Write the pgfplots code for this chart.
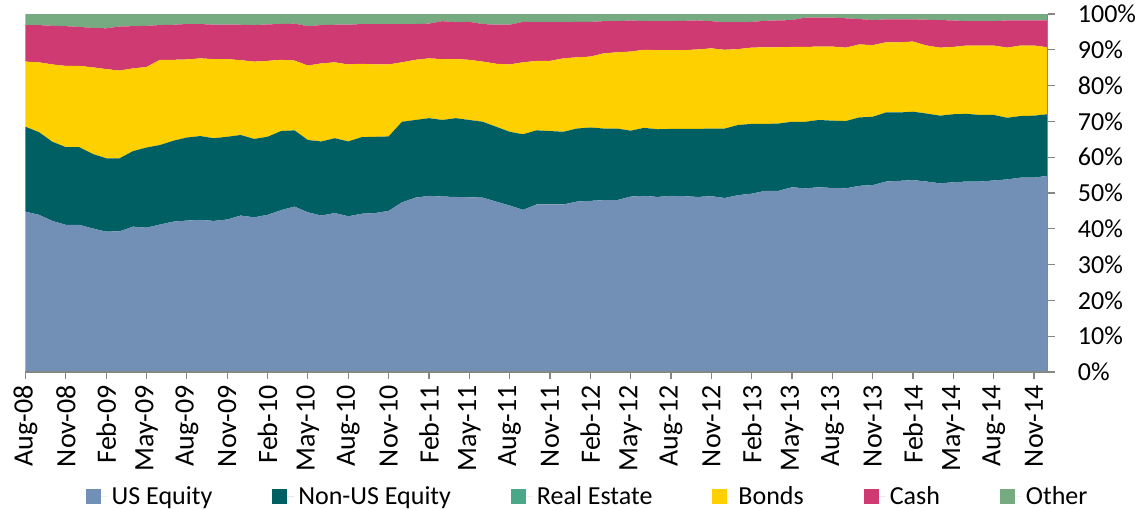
\documentclass[border=0pt]{standalone}
\usepackage{pgfplots}
\pgfplotsset{compat=1.18}
\usepackage{pgfplotstable}
\usepackage{fontspec}
\setmainfont{Carlito}
\definecolor{cUS}{HTML}{728FB5}
\definecolor{cNUS}{HTML}{005F63}
\definecolor{cRE}{HTML}{4AA888}
\definecolor{cBond}{HTML}{FFD000}
\definecolor{cCash}{HTML}{D03A72}
\definecolor{cOther}{HTML}{76AA80}
\definecolor{axisgray}{HTML}{868686}
\pgfplotstableread{
i us nus bonds cash other
0 44.8 23.7 18.2 10.2 3.1
1 43.9 23.1 19.5 10.4 3.1
2 42.2 22.1 21.6 10.8 3.3
3 41.1 21.7 22.7 11.1 3.4
4 41.1 21.7 22.7 10.9 3.6
5 40.1 20.8 24.2 11.0 3.9
6 39.2 20.5 24.9 11.4 4.0
7 39.3 20.4 24.5 12.3 3.5
8 40.6 21.1 23.1 11.8 3.4
9 40.3 22.4 22.5 11.5 3.3
10 41.2 22.2 23.8 9.7 3.1
11 42.0 22.6 22.6 9.8 3.0
12 42.3 23.2 21.8 9.9 2.8
13 42.5 23.4 21.7 9.6 2.8
14 42.2 23.1 22.1 9.6 3.0
15 42.6 23.1 21.7 9.6 3.0
16 43.7 22.5 20.9 9.9 3.0
17 43.2 21.9 21.6 10.2 3.1
18 43.9 21.8 21.2 10.2 2.9
19 45.2 22.1 19.9 10.0 2.8
20 46.2 21.3 19.5 10.3 2.7
21 44.6 20.2 20.8 11.0 3.4
22 43.7 20.7 21.8 10.7 3.1
23 44.4 20.9 21.2 10.5 3.0
24 43.5 20.9 21.5 11.1 3.0
25 44.2 21.4 20.5 11.1 2.8
26 44.4 21.3 20.2 11.3 2.8
27 45.0 20.8 20.1 11.3 2.8
28 47.4 22.5 16.6 10.7 2.8
29 48.7 21.7 16.8 10.0 2.8
30 49.2 21.7 16.7 9.7 2.7
31 49.0 21.4 17.0 10.6 2.0
32 48.9 22.0 16.5 10.3 2.3
33 48.8 21.6 16.8 10.6 2.2
34 48.7 21.2 16.8 10.5 2.8
35 47.6 20.9 17.6 10.9 3.0
36 46.5 20.6 18.8 11.1 3.0
37 45.3 21.1 20.1 11.3 2.2
38 46.8 20.7 19.4 10.8 2.3
39 46.8 20.5 19.6 10.8 2.3
40 46.8 20.3 20.5 10.1 2.3
41 47.6 20.4 19.9 9.9 2.2
42 47.8 20.5 19.8 9.7 2.2
43 48.0 20.0 21.0 9.0 2.0
44 48.0 20.0 21.3 8.7 2.0
45 49.0 18.4 22.1 8.7 1.8
46 49.2 19.0 21.8 8.0 2.0
47 48.9 18.9 22.1 8.1 2.0
48 49.2 18.7 22.0 8.1 2.0
49 49.1 18.8 22.0 8.2 1.9
50 48.9 19.0 22.2 8.1 1.8
51 49.1 18.9 22.4 7.6 2.0
52 48.6 19.4 22.0 7.7 2.3
53 49.4 19.6 21.2 7.5 2.3
54 49.8 19.5 21.3 7.2 2.2
55 50.6 18.7 21.4 7.4 1.9
56 50.6 18.8 21.3 7.5 1.8
57 51.6 18.3 20.9 7.5 1.7
58 51.3 18.6 20.9 8.2 1.0
59 51.6 18.8 20.5 8.1 1.0
60 51.4 18.8 20.7 8.1 1.0
61 51.3 18.8 20.5 8.2 1.2
62 52.0 19.1 20.4 7.1 1.4
63 52.2 19.1 20.0 7.0 1.7
64 53.2 19.3 19.6 6.4 1.5
65 53.4 19.1 19.6 6.4 1.5
66 53.6 19.1 19.6 6.2 1.5
67 53.2 19.0 19.0 7.2 1.6
68 52.7 18.9 19.0 7.7 1.7
69 53.0 19.0 18.8 7.4 1.8
70 53.2 18.9 19.1 6.8 2.0
71 53.2 18.6 19.4 6.8 2.0
72 53.5 18.3 19.4 6.8 2.0
73 53.8 17.2 19.6 7.6 1.8
74 54.3 17.2 19.7 7.0 1.8
75 54.3 17.3 19.6 7.0 1.8
76 54.8 17.2 18.7 7.5 1.8
}\data
\begin{document}
\begin{tikzpicture}
\path[use as bounding box] (-12.75pt,-68.5pt) rectangle (554.75pt,186pt);
\begin{axis}[
  at={(0,0)}, anchor=south west,
  scale only axis, width=511pt, height=179pt,
  xmin=0, xmax=76, ymin=0, ymax=100,
  stack plots=y,
  axis x line*=bottom, axis y line*=right,
  axis line style={draw=axisgray, line width=0.6pt},
  tick align=outside, major tick length=3.5pt,
  tick style={draw=axisgray, line width=0.6pt},
  axis on top,
  xtick={0,3,...,75},
  xticklabels={Aug-08,Nov-08,Feb-09,May-09,Aug-09,Nov-09,Feb-10,May-10,Aug-10,Nov-10,Feb-11,May-11,Aug-11,Nov-11,Feb-12,May-12,Aug-12,Nov-12,Feb-13,May-13,Aug-13,Nov-13,Feb-14,May-14,Aug-14,Nov-14},
  ytick={0,10,...,100},
  yticklabels={0\%,10\%,20\%,30\%,40\%,50\%,60\%,70\%,80\%,90\%,100\%},
  xticklabel style={yshift=-3pt, rotate=90, anchor=east, inner sep=0pt, font=\fontsize{14}{16}\selectfont},
  yticklabel style={xshift=11.5pt, anchor=west, inner sep=0pt, font=\fontsize{13}{15}\selectfont},
  legend style={at={(0.551,-0.349)}, anchor=center, draw=none, fill=none,
    legend columns=-1, font=\fontsize{13}{15}\selectfont,
    /tikz/every even column/.append style={column sep=28pt}},
  legend image code/.code={\fill[#1] (0pt,-3.75pt) rectangle (7.5pt,3.75pt); \path (0pt,0pt) -- (11pt,0pt);},
]
\addplot[fill=cUS, draw=none] table[x=i,y=us]{\data} \closedcycle;
\addlegendentry{US Equity}
\addplot[fill=cNUS, draw=none] table[x=i,y=nus]{\data} \closedcycle;
\addlegendentry{Non-US Equity}
\addlegendimage{fill=cRE, draw=none}
\addlegendentry{Real Estate}
\addplot[fill=cBond, draw=none] table[x=i,y=bonds]{\data} \closedcycle;
\addlegendentry{Bonds}
\addplot[fill=cCash, draw=none] table[x=i,y=cash]{\data} \closedcycle;
\addlegendentry{Cash}
\addplot[fill=cOther, draw=none] table[x=i,y=other]{\data} \closedcycle;
\addlegendentry{Other}
\end{axis}
\end{tikzpicture}
\end{document}
